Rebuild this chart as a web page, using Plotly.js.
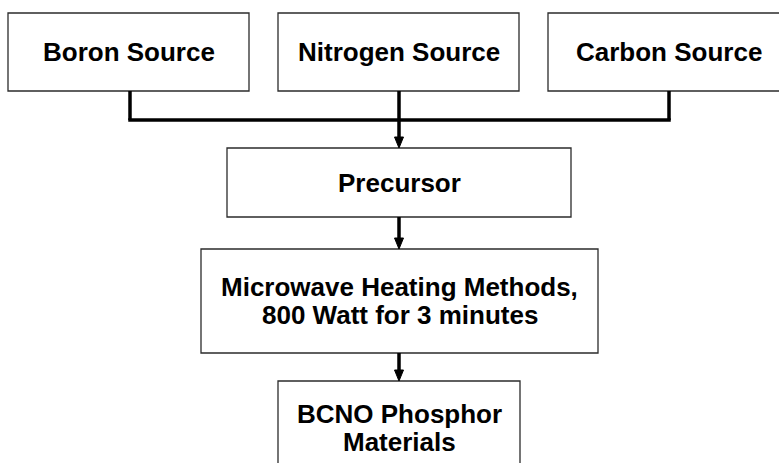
<!DOCTYPE html>
<html>
<head>
<meta charset="utf-8">
<script src="https://cdn.plot.ly/plotly-3.0.1.min.js"></script>
<style>html,body{margin:0;padding:0;background:#fff;}#chart{width:779px;height:463px;}</style>
</head>
<body>
<div id="chart"></div>
<script>
// ---- data (labels, one entry per text line) ----
const sourceLabels = [['Boron Source'], ['Nitrogen Source'], ['Carbon Source']];
const stepLabels = [['Precursor'], ['Microwave Heating Methods,', '800 Watt for 3 minutes'], ['BCNO Phosphor', 'Materials']];

// ---- layout geometry (pixel-like coordinates on hidden axes) ----
const sourceBoxes = [[8, 249, 13, 91], [278, 519, 13, 91], [548, 790, 13, 91]];
const stepBoxes = [[227, 571, 148, 217], [201, 598, 249, 353], [278, 520, 381, 475]];
const busY = 120;
const mainX = 399;
const lineGap = 28.5;
const boxLine = {color: '#2b2b2b', width: 1.3};
const connLine = {color: '#000000', width: 3.5};
const font = {family: 'Liberation Sans, Arial, sans-serif', size: 26, color: '#000', weight: 'bold'};

const shapes = [];
const annotations = [];

function addBox(b, lines) {
  shapes.push({type: 'rect', xref: 'x', yref: 'y', x0: b[0], x1: b[1], y0: b[2], y1: b[3], line: boxLine, fillcolor: 'rgba(0,0,0,0)'});
  const cy = (b[2] + b[3]) / 2;
  lines.forEach((t, k) => {
    annotations.push({xref: 'x', yref: 'y', x: (b[0] + b[1]) / 2,
      y: cy + (k - (lines.length - 1) / 2) * lineGap, text: t, showarrow: false,
      xanchor: 'center', yanchor: 'middle', align: 'center', font: font});
  });
}
sourceLabels.forEach((l, i) => addBox(sourceBoxes[i], l));
stepLabels.forEach((l, i) => addBox(stepBoxes[i], l));

function seg(x0, y0, x1, y1) {
  shapes.push({type: 'line', xref: 'x', yref: 'y', x0: x0, y0: y0, x1: x1, y1: y1, line: connLine});
}
function arrow(x, yFrom, yTo) {
  const head = 11, half = 4.5;
  seg(x, yFrom, x, yTo - head + 1);
  shapes.push({type: 'path', xref: 'x', yref: 'y',
    path: `M ${x - half} ${yTo - head} L ${x + half} ${yTo - head} L ${x} ${yTo} Z`,
    fillcolor: '#000', line: {color: '#000', width: 1}});
}
// side sources to bus
const leftX = (sourceBoxes[0][0] + sourceBoxes[0][1]) / 2 + 1.5;
const rightX = (sourceBoxes[2][0] + sourceBoxes[2][1]) / 2;
seg(leftX, sourceBoxes[0][3], leftX, busY);
seg(rightX, sourceBoxes[2][3], rightX, busY);
seg(leftX - 1.75, busY, rightX + 1.75, busY);
// main flow arrows
arrow(mainX, sourceBoxes[1][3], stepBoxes[0][2]);
arrow(mainX, stepBoxes[0][3], stepBoxes[1][2]);
arrow(mainX, stepBoxes[1][3], stepBoxes[2][2]);

const layout = {
  width: 779, height: 463,
  margin: {l: 0, r: 0, t: 0, b: 0},
  paper_bgcolor: '#fff', plot_bgcolor: '#fff',
  xaxis: {range: [0, 779], visible: false, fixedrange: true},
  yaxis: {range: [463, 0], visible: false, fixedrange: true},
  showlegend: false,
  shapes: shapes,
  annotations: annotations
};
Plotly.newPlot('chart', [], layout, {staticPlot: true, displayModeBar: false});
</script>
</body>
</html>
